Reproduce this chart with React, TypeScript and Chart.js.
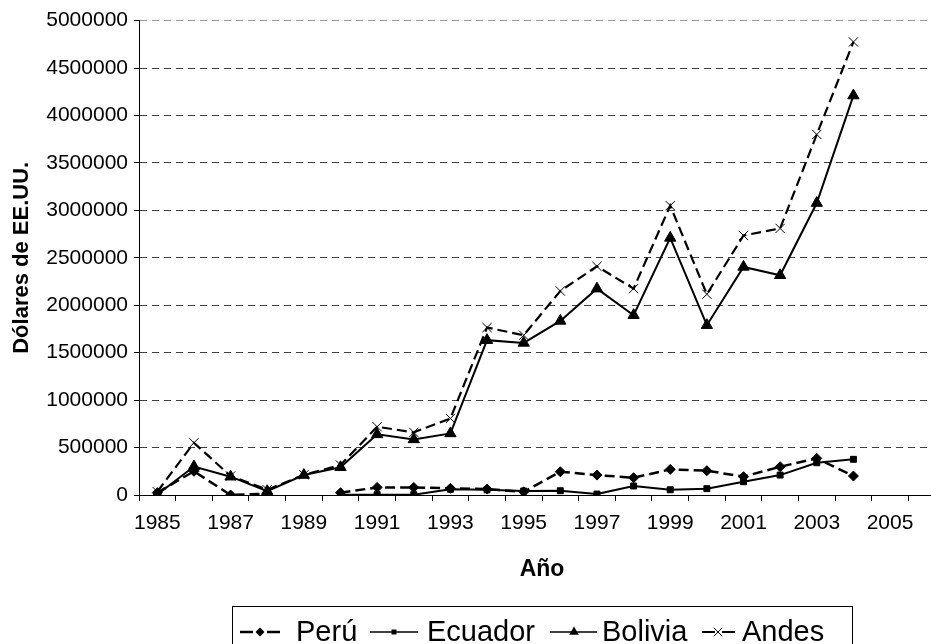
import React, { useEffect, useRef } from 'react';
import { Chart, registerables } from 'chart.js';

Chart.register(...registerables);

// ---- data ----
const years = ['1985', '1986', '1987', '1988', '1989', '1990', '1991', '1992', '1993', '1994', '1995',
  '1996', '1997', '1998', '1999', '2000', '2001', '2002', '2003', '2004', '2005', '2006'];
const peru = [25000, 250000, 0, 15000, null, 24000, 80000, 80000, 70000, 62000, 33000,
  245000, 210000, 182000, 270000, 256000, 193000, 298000, 386000, 200000, null, null];
const ecuador = [null, null, null, null, null, 2000, 3000, 3000, 60000, 55000, 42000,
  45000, 10000, 95000, 55000, 67000, 140000, 210000, 340000, 376000, null, null];
const bolivia = [5000, 300000, 193000, 40000, 210000, 292000, 639000, 586000, 649000, 1632000, 1603000,
  1835000, 2175000, 1895000, 2710000, 1790000, 2404000, 2316000, 3077000, 4210000, null, null];
const andes = [35000, 550000, 200000, 55000, 212000, 316000, 719000, 660000, 807000, 1765000, 1684000,
  2150000, 2410000, 2175000, 3050000, 2116000, 2735000, 2810000, 3800000, 4775000, null, null];
const seriesNames = ['Perú', 'Ecuador', 'Bolivia', 'Andes'];
const yMin = 0;
const yMax = 5000000;
const yStep = 500000;
const xTitle = 'Año';
const yTitle = 'Dólares de EE.UU.';

const FONT = "'Liberation Sans', Arial, Helvetica, sans-serif";

function drawMarker(ctx: CanvasRenderingContext2D, kind: string, x: number, y: number, r: number) {
  ctx.save();
  ctx.fillStyle = '#000';
  ctx.strokeStyle = '#000';
  ctx.setLineDash([]);
  ctx.beginPath();
  if (kind === 'diamond') {
    ctx.moveTo(x, y - r); ctx.lineTo(x + r, y); ctx.lineTo(x, y + r); ctx.lineTo(x - r, y); ctx.closePath(); ctx.fill();
  } else if (kind === 'square') {
    const s = r * Math.SQRT1_2;
    ctx.rect(x - s, y - s, 2 * s, 2 * s); ctx.fill();
  } else if (kind === 'triangle') {
    for (let i = 0; i < 3; i++) {
      const a = (i * 2 * Math.PI) / 3;
      const px = x + Math.sin(a) * r;
      const py = y - Math.cos(a) * r;
      if (i === 0) ctx.moveTo(px, py); else ctx.lineTo(px, py);
    }
    ctx.closePath(); ctx.fill();
  } else if (kind === 'cross') {
    const d = r * Math.SQRT1_2;
    ctx.lineWidth = 1;
    ctx.moveTo(x - d, y - d); ctx.lineTo(x + d, y + d);
    ctx.moveTo(x + d, y - d); ctx.lineTo(x - d, y + d);
    ctx.stroke();
  }
  ctx.restore();
}

const boxLegend = {
  id: 'boxLegend',
  afterDraw(chart: any) {
    const ctx: CanvasRenderingContext2D = chart.ctx;
    ctx.save();
    ctx.strokeStyle = '#000';
    ctx.lineWidth = 1;
    ctx.setLineDash([]);
    ctx.strokeRect(232.5, 606.5, 620, 50);
    const cy = 632;
    const items = [
      { segs: [[240, 253], [267, 280]], marker: 'diamond', mx: 260, r: 4.5, lw: 2.5, text: 296 },
      { segs: [[370, 418]], marker: 'square', mx: 394, r: 3.5, lw: 1.5, text: 427 },
      { segs: [[550, 597]], marker: 'triangle', mx: 574, r: 5.5, lw: 1.5, text: 602 },
      { segs: [[702, 715], [722, 735]], marker: 'cross', mx: 718, r: 6, lw: 2, text: 742 },
    ];
    items.forEach((it, i) => {
      ctx.strokeStyle = '#000';
      ctx.lineWidth = it.lw;
      it.segs.forEach(([a, b]) => {
        ctx.beginPath();
        ctx.moveTo(a, cy);
        ctx.lineTo(b, cy);
        ctx.stroke();
      });
      drawMarker(ctx, it.marker, it.mx, cy, it.r);
      ctx.fillStyle = '#000';
      ctx.font = `29px ${FONT}`;
      ctx.textAlign = 'left';
      ctx.textBaseline = 'alphabetic';
      ctx.fillText(seriesNames[i], it.text, 641);
    });
    ctx.restore();
  },
};

export default function App() {
  const ref = useRef<HTMLCanvasElement | null>(null);

  useEffect(() => {
    if (!ref.current) return;
    const chart = new Chart(ref.current, {
      type: 'line',
      data: {
        labels: years,
        datasets: [
          {
            label: seriesNames[0], data: peru, borderColor: '#000', backgroundColor: '#000',
            borderWidth: 2.5, borderDash: [10, 5], pointStyle: 'rectRot', pointRadius: 5,
            pointBorderWidth: 1, pointBackgroundColor: '#000', pointBorderColor: '#000', tension: 0, spanGaps: false,
          },
          {
            label: seriesNames[1], data: ecuador, borderColor: '#000', backgroundColor: '#000',
            borderWidth: 2, pointStyle: 'rect', pointRadius: 4.2,
            pointBorderWidth: 1, pointBackgroundColor: '#000', pointBorderColor: '#000', tension: 0, spanGaps: false,
          },
          {
            label: seriesNames[2], data: bolivia, borderColor: '#000', backgroundColor: '#000',
            borderWidth: 2, pointStyle: 'triangle', pointRadius: 6.5,
            pointBorderWidth: 1, pointBackgroundColor: '#000', pointBorderColor: '#000', tension: 0, spanGaps: false,
          },
          {
            label: seriesNames[3], data: andes, borderColor: '#000', backgroundColor: '#000',
            borderWidth: 2.2, borderDash: [10, 5], pointStyle: 'crossRot', pointRadius: 6.5,
            pointBorderWidth: 1, pointBackgroundColor: '#000', pointBorderColor: '#000', tension: 0, spanGaps: false,
          },
        ],
      },
      options: {
        responsive: false,
        animation: false,
        devicePixelRatio: 1,
        layout: { padding: { left: 0, right: 15, top: 20.6, bottom: 0 } },
        plugins: { legend: { display: false }, tooltip: { enabled: false } },
        scales: {
          x: {
            type: 'category',
            offset: true,
            grid: {
              offset: true,
              drawOnChartArea: false,
              drawTicks: true,
              tickLength: 6,
              tickColor: '#000',
              tickWidth: 1,
            },
            border: { display: true, color: '#000', width: 1 },
            ticks: {
              autoSkip: false,
              maxRotation: 0,
              minRotation: 0,
              padding: 10,
              color: '#000',
              font: { family: FONT, size: 21 },
              callback: function (this: any, val: any) {
                const l = String(this.getLabelForValue(val));
                return Number(l) % 2 === 1 ? l : '';
              },
            },
            title: {
              display: true,
              text: xTitle,
              color: '#000',
              font: { family: FONT, size: 23, weight: 'bold' },
              padding: { top: 0, bottom: 61 },
            },
            afterFit: (scale: any) => { scale.height = 149; },
          },
          y: {
            type: 'linear',
            min: yMin,
            max: yMax,
            grid: {
              drawOnChartArea: true,
              tickLength: 5,
              tickColor: '#000',
              tickWidth: 1,
              lineWidth: 1,
              color: (ctx: any) => {
                const v = ctx.tick ? ctx.tick.value : null;
                if (v === yMin) return 'rgba(0,0,0,0)';
                if (v === yMax) return '#9a9a9a';
                return '#404040';
              },
            },
            border: { display: true, color: '#000', width: 1, dash: [7, 5] },
            ticks: {
              stepSize: yStep,
              padding: 6,
              color: '#000',
              font: { family: FONT, size: 21 },
              callback: (v: any) => String(v),
            },
            title: {
              display: true,
              text: yTitle,
              color: '#000',
              font: { family: FONT, size: 22, weight: 'bold' },
              padding: { top: 9, bottom: 0 },
            },
            afterFit: (scale: any) => { scale.width = 139; },
          },
        },
      },
      plugins: [boxLegend],
    } as any);
    return () => chart.destroy();
  }, []);

  return (
    <div style={{ position: 'fixed', left: 0, top: 0, width: 931, height: 644, overflow: 'hidden', background: '#fff' }}>
      <canvas ref={ref} width={960} height={644} style={{ display: 'block', width: 960, height: 644 }} />
    </div>
  );
}
